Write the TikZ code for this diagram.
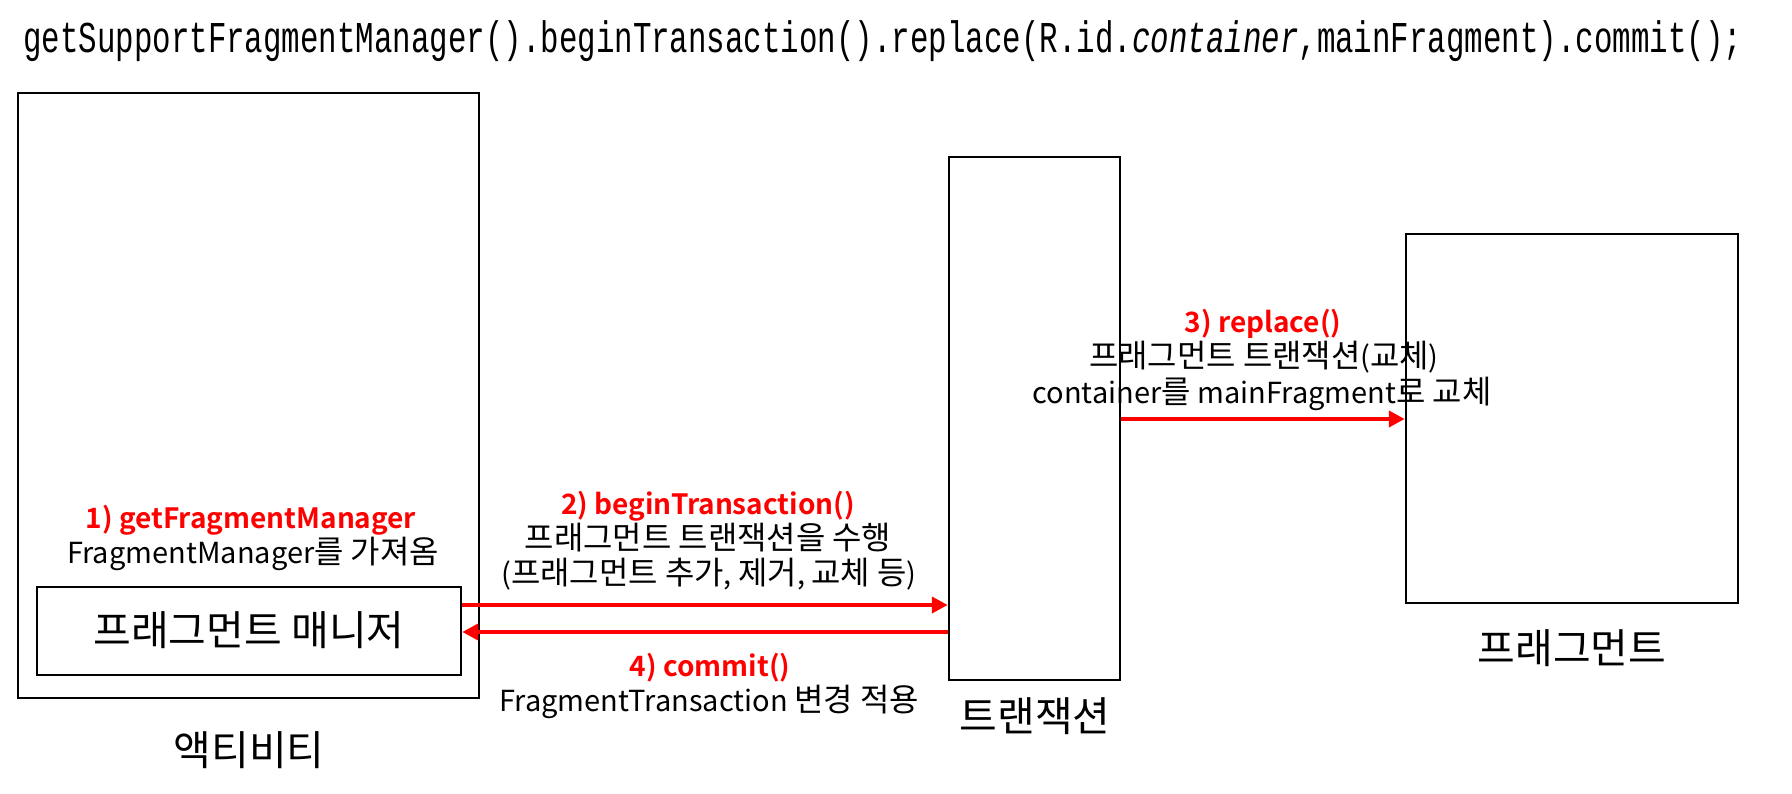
\documentclass[tikz,border=0pt]{standalone}
\usepackage{fontspec}
\setmainfont{Noto Sans CJK KR}[BoldFont={Noto Sans CJK KR Bold}]
\newfontfamily\hgfont{Noto Sans CJK KR}[Scale=1.1]
\newcommand\hg[1]{{\hgfont #1}}
\newfontfamily\titlefont{Liberation Mono}
\usetikzlibrary{arrows.meta}
\definecolor{lblred}{RGB}{255,0,0}
\tikzset{
  box/.style={draw=black, line width=2.5pt, inner sep=0pt, fill=none},
  arr/.style={draw=lblred, line width=4pt, -{Triangle[length=16pt,width=16pt]}},
  redlbl/.style={anchor=base, text=lblred, font=\fontsize{28}{34}\selectfont\bfseries, inner sep=0pt},
  blklbl/.style={anchor=base, font=\fontsize{29}{35}\selectfont, inner sep=0pt},
  biglbl/.style={anchor=base, font=\fontsize{41}{48}\selectfont, inner sep=0pt}
}
\begin{document}
\begin{tikzpicture}[x=1pt,y=-1pt]
\useasboundingbox (0,0) rectangle (1792,794);
% title
\node[anchor=base west, inner sep=0pt] (title) at (23,53)
  {\scalebox{0.70}[1]{\titlefont\fontsize{44}{52}\selectfont getSupportFragmentManager().beginTransaction().replace(R.id.\textit{container},mainFragment).commit();}};
% boxes
\node[box, minimum width=461pt, minimum height=605pt] (act) at (248.5,395.5) {};
\node[box, minimum width=424pt, minimum height=88pt] (fm) at (249,631) {};
\node[box, minimum width=171pt, minimum height=523pt] (tx) at (1034.5,418.5) {};
\node[box, minimum width=332pt, minimum height=369pt] (frag) at (1572,418.5) {};
% box texts
\node[biglbl] (fmlbl) at (249,645) {프래그먼트 매니저};
\node[biglbl] (actlbl) at (249,765) {액티비티};
\node[biglbl] (txlbl) at (1035,731) {트랜잭션};
\node[biglbl] (fraglbl) at (1572,663) {프래그먼트};
% connectors
\draw[arr] (fm.east |- 0,605) -- (tx.west |- 0,605);
\draw[arr] (tx.west |- 0,632) -- (fm.east |- 0,632);
\draw[arr] (tx.east |- 0,419) -- (frag.west |- 0,419);
% labels
\node[redlbl] (l1a) at (251,528) {1) getFragmentManager};
\node[blklbl] (l1b) at (253,563) {FragmentManager\hg{를 가져옴}};
\node[redlbl] (l2a) at (708,514) {2) beginTransaction()};
\node[blklbl] (l2b) at (708,549) {\hg{프래그먼트 트랜잭션을 수행}};
\node[blklbl] (l2c) at (709,584) {(\hg{프래그먼트 추가}, \hg{제거}, \hg{교체 등})};
\node[redlbl] (l4a) at (710,676) {4) commit()};
\node[blklbl] (l4b) at (709,711) {FragmentTransaction \hg{변경 적용}};
\node[redlbl] (l3a) at (1263,333) {3) replace()};
\node[blklbl] (l3b) at (1264,368) {\hg{프래그먼트 트랜잭션}(\hg{교체})};
\node[blklbl] (l3c) at (1262,403) {container\hg{를} mainFragment\hg{로 교체}};
\end{tikzpicture}
\end{document}
